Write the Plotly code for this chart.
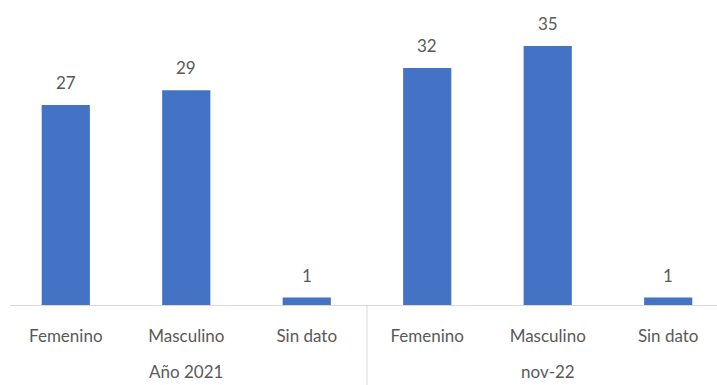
import plotly.graph_objects as go

groups = ["Año 2021", "nov-22"]
categories = ["Femenino", "Masculino", "Sin dato", "Femenino", "Masculino", "Sin dato"]
values = [27, 29, 1, 32, 35, 1]

BAR_COLOR = "#4472C4"
TEXT_COLOR = "#595959"
LINE_COLOR = "#d9d9d9"
FONT = "Lato"
FS = 17

positions = list(range(len(categories)))
per_group = len(categories) // len(groups)

fig = go.Figure()
fig.add_trace(go.Bar(
    x=positions,
    y=values,
    width=0.4,
    marker=dict(color=BAR_COLOR, line=dict(width=0)),
    hoverinfo="skip",
))

# data labels
for xi, v in zip(positions, values):
    fig.add_annotation(
        x=xi, y=v, xref="x", yref="y", text=str(v), showarrow=False,
        yanchor="bottom", yshift=10,
        font=dict(family=FONT, size=FS, color=TEXT_COLOR),
    )

# group labels and dividers
plot_h = 305
for gi, g in enumerate(groups):
    center = gi * per_group + (per_group - 1) / 2
    fig.add_annotation(
        x=center, y=(plot_h - 384) / plot_h, xref="x", yref="paper",
        text=g, showarrow=False, yanchor="bottom",
        font=dict(family=FONT, size=FS, color=TEXT_COLOR),
    )
for gi in range(len(groups) + 1):
    bx = gi * per_group - 0.5
    fig.add_shape(
        type="line", xref="x", yref="paper",
        x0=bx, x1=bx, y0=0, y1=-80 / plot_h,
        line=dict(color=LINE_COLOR, width=1),
    )

fig.update_layout(
    width=717, height=385,
    margin=dict(l=10, r=0, t=0, b=80),
    paper_bgcolor="white", plot_bgcolor="white",
    showlegend=False,
    xaxis=dict(
        range=[-0.463, 5.405],
        tickmode="array", tickvals=positions, ticktext=categories,
        showline=True, linecolor=LINE_COLOR, linewidth=1,
        showgrid=False, zeroline=False, ticks="",
        ticklabelstandoff=16,
        tickfont=dict(family=FONT, size=FS, color=TEXT_COLOR),
    ),
    yaxis=dict(
        range=[0, 41.2], visible=False, showgrid=False, zeroline=False,
    ),
)

fig.write_html("out.html")
